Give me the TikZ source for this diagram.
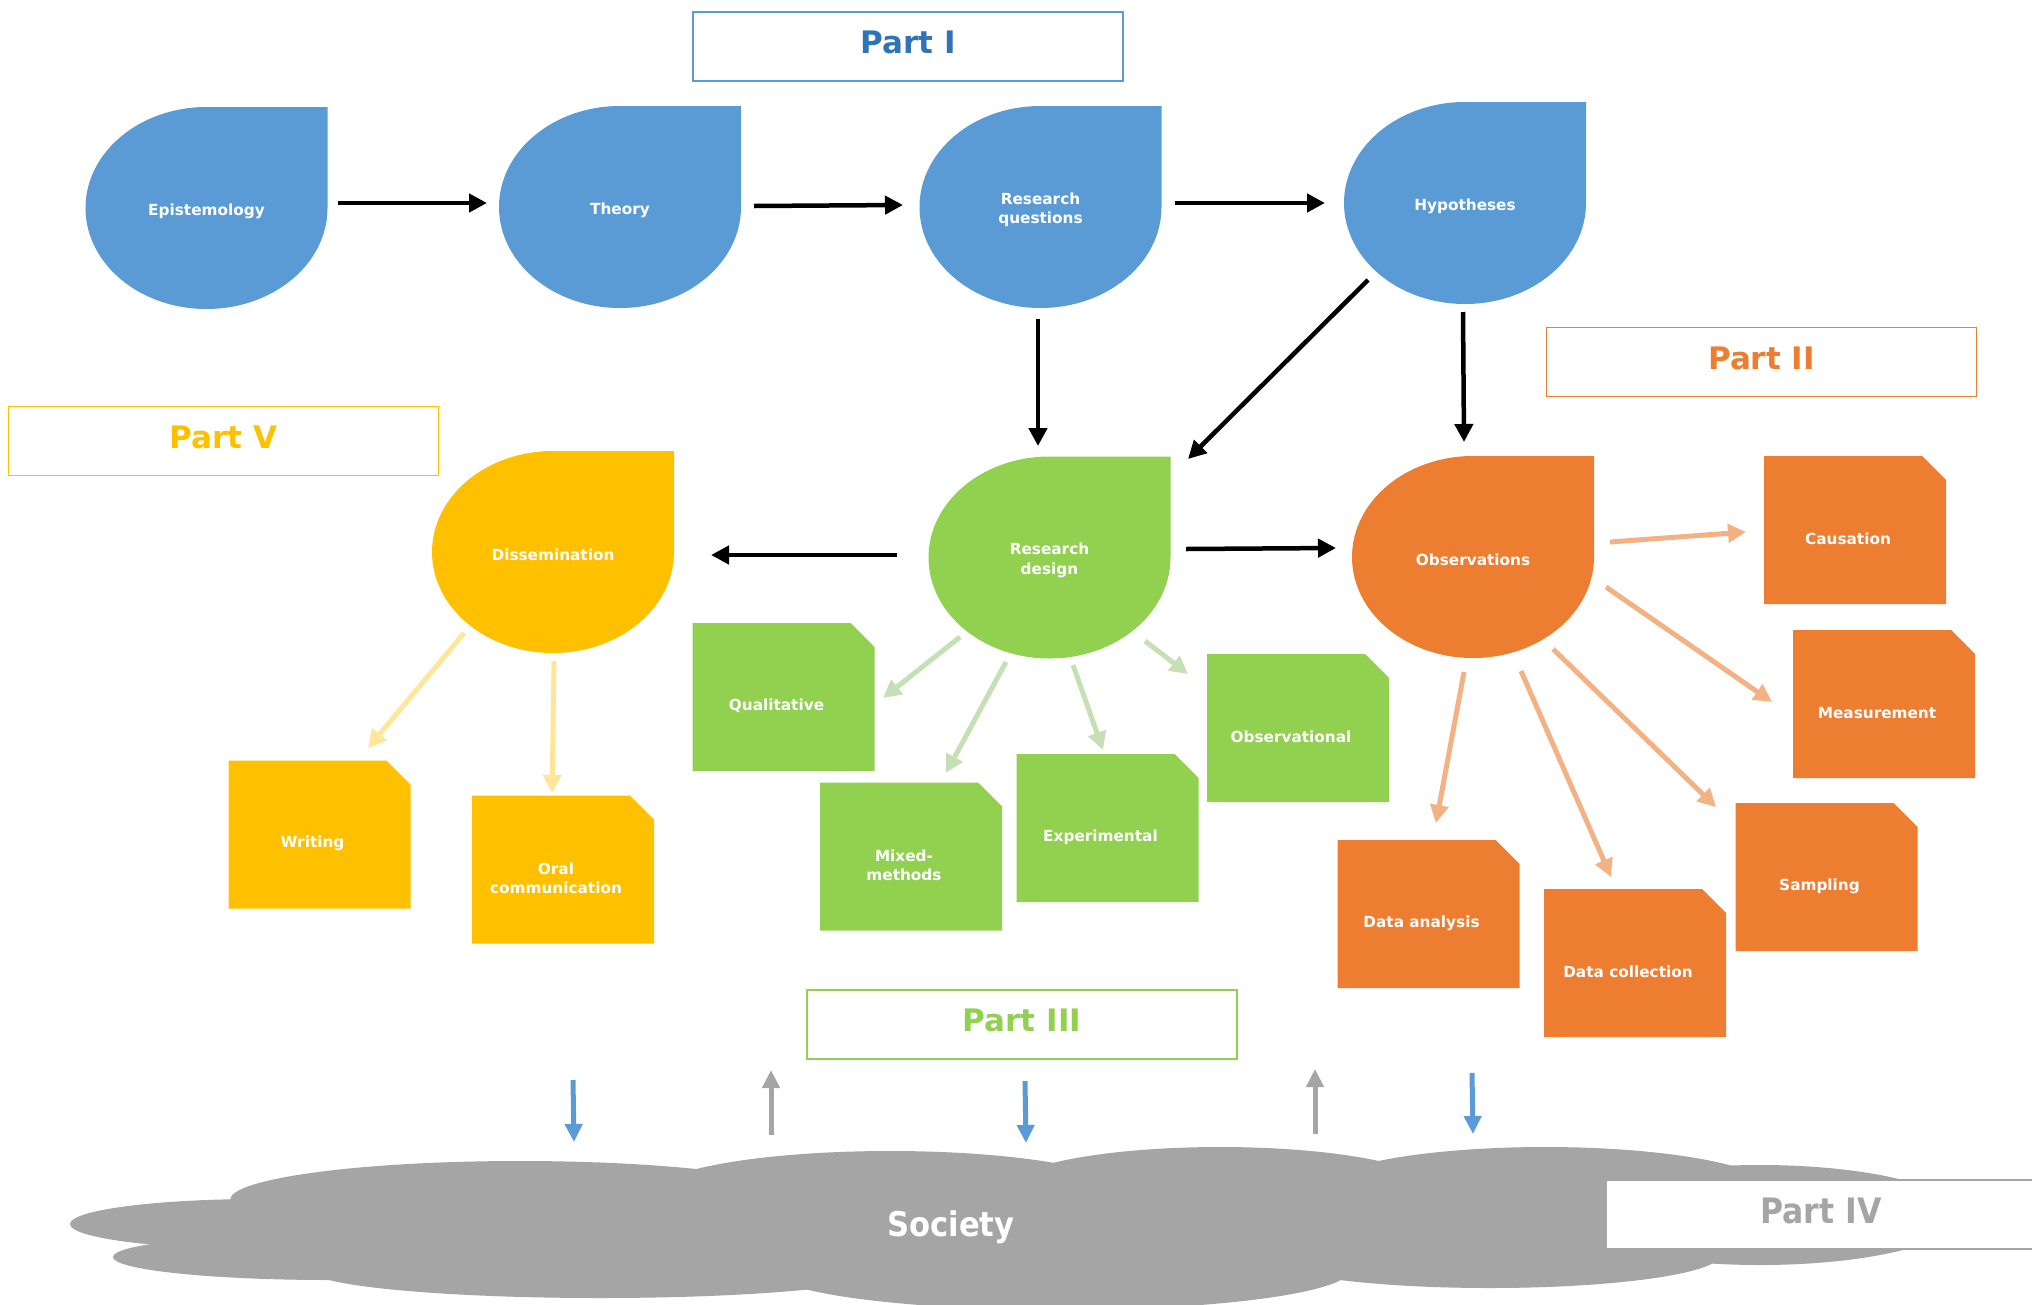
\documentclass[tikz,border=0pt]{standalone}
\usepackage{fontspec}
\setmainfont{DejaVu Sans}
\newfontfamily\condfont{DejaVu Sans Condensed}
\usetikzlibrary{arrows.meta,calc}
\definecolor{cblue}{HTML}{5B9BD5}
\definecolor{cbluedk}{HTML}{2E75B6}
\definecolor{cgreen}{HTML}{92D050}
\definecolor{corange}{HTML}{ED7D31}
\definecolor{cgold}{HTML}{FFC000}
\definecolor{cgray}{HTML}{A5A5A5}
\definecolor{lgreen}{HTML}{C5E0B4}
\definecolor{lorange}{HTML}{F4B183}
\definecolor{lgold}{HTML}{FFE699}
\newcommand\shapefont{\fontsize{15.3}{19.5}\selectfont\bfseries}
\newcommand\partfont{\fontsize{31}{36}\selectfont\bfseries}
\begin{document}
\begin{tikzpicture}[x=1pt,y=-1pt,
  drop/.style={rectangle, minimum width=242pt, minimum height=202pt, inner sep=0pt,
    path picture={\fill[#1] (path picture bounding box.north) -- (path picture bounding box.north east)
      -- (path picture bounding box.east) arc[start angle=0, end angle=-270, x radius=121pt, y radius=101pt] -- cycle;}},
  droptext/.style={align=center, text=white, font=\shapefont, inner sep=0pt, yshift=-3pt},
  doc/.style={rectangle, minimum width=182pt, minimum height=148pt, inner sep=0pt,
    path picture={\fill[#1] (path picture bounding box.north west) -- ([xshift=-24pt]path picture bounding box.north east)
      -- ([yshift=-24pt]path picture bounding box.north east) -- (path picture bounding box.south east)
      -- (path picture bounding box.south west) -- cycle;}},
  doctext/.style={align=center, text=white, font=\shapefont, inner sep=0pt, xshift=-7pt, yshift=-9pt},
  partbox/.style={draw=#1, line width=1.5pt, fill=white, minimum width=430pt, minimum height=69pt,
    inner sep=0pt, text depth=8pt, font=\partfont},
  blk/.style={line width=4.5pt, -{Triangle[length=18pt,width=18pt]}},
  soft/.style={draw=#1, line width=5pt, -{Triangle[length=18pt,width=18pt]}},
  bot/.style={draw=#1, line width=5pt, -{Triangle[length=18pt,width=17pt]}}
]
\useasboundingbox (0,0) rectangle (2032,1304);

% Society cloud
\begin{scope}[cgray]
\fill (260,1224) ellipse [x radius=190pt, y radius=25pt];
\fill (330,1257) ellipse [x radius=217pt, y radius=23pt];
\fill (520,1200) ellipse [x radius=290pt, y radius=39pt];
\fill (890,1195) ellipse [x radius=240pt, y radius=44pt];
\fill (1220,1190) ellipse [x radius=215pt, y radius=43pt];
\fill (1545,1192) ellipse [x radius=230pt, y radius=45pt];
\fill (1760,1215) ellipse [x radius=200pt, y radius=50pt];
\fill (600,1270) ellipse [x radius=290pt, y radius=28pt];
\fill (1060,1270) ellipse [x radius=290pt, y radius=40pt];
\fill (1490,1255) ellipse [x radius=230pt, y radius=33pt];
\fill (950,1225) ellipse [x radius=800pt, y radius=55pt];
\end{scope}
\node[font=\condfont\fontsize{34}{38}\selectfont\bfseries, text=white] (soc) at (951,1227) {Society};

% Part labels
\node[partbox=cblue, text=cbluedk] (p1) at (908,46.5) {Part I};
\node[partbox=corange, text=corange] (p2) at (1761.5,362) {Part II};
\node[partbox=cgreen, text=cgreen] (p3) at (1022,1024.5) {Part III};
\node[partbox=cgray, text=cgray, font=\condfont\fontsize{35}{38}\selectfont\bfseries] (p4) at (1821,1214.5) {Part IV};
\node[partbox=cgold, text=cgold] (p5) at (223.5,441) {Part V};

% Teardrops
\node[drop=cblue, label={[droptext, name=epiT]center:Epistemology}] (epi) at (206.5,208) {};
\node[drop=cblue, label={[droptext, name=theoryT]center:Theory}] (theory) at (620,207) {};
\node[drop=cblue, label={[droptext, name=rqT]center:Research\\questions}] (rq) at (1040.5,207) {};
\node[drop=cblue, label={[droptext, name=hypT]center:Hypotheses}] (hyp) at (1465,203) {};
\node[drop=cgreen, label={[droptext, name=rdT]center:Research\\design}] (rd) at (1049.5,557.5) {};
\node[drop=cgold, label={[droptext, name=dissT]center:Dissemination}] (diss) at (553,552) {};
\node[drop=corange, label={[droptext, name=obsT]center:Observations}] (obs) at (1473,557) {};

% Documents
\node[doc=corange, label={[doctext, name=causT]center:Causation}] (caus) at (1855,530) {};
\node[doc=corange, label={[doctext, name=measT]center:Measurement}] (meas) at (1884,704) {};
\node[doc=corange, label={[doctext, name=sampT]center:Sampling}] (samp) at (1826.5,877) {};
\node[doc=corange, label={[doctext, name=dcollT]center:Data collection}] (dcoll) at (1635,963) {};
\node[doc=corange, label={[doctext, name=danaT]center:Data analysis}] (dana) at (1428.5,914) {};
\node[doc=cgreen, label={[doctext, name=obsvT]center:Observational}] (obsv) at (1298,728) {};
\node[doc=cgreen, label={[doctext, name=expT]center:Experimental}] (exp) at (1107.5,828) {};
\node[doc=cgreen, label={[doctext, name=mixT]center:Mixed-\\methods}] (mixed) at (911,856.5) {};
\node[doc=cgreen, label={[doctext, name=qualT]center:Qualitative}] (qual) at (783.5,697) {};
\node[doc=cgold, label={[doctext, name=writT]center:Writing}] (writ) at (319.5,834.5) {};
\node[doc=cgold, label={[doctext, name=oralT]center:Oral\\communication}] (oral) at (563,869.5) {};

% Black arrows
\draw[blk] ($(epi)+(131,-5)$) -- ($(theory)+(-133,-4)$);
\draw[blk] ($(theory)+(134,-1)$) -- ($(rq)+(-137.5,-2)$);
\draw[blk] ($(rq)+(134.5,-4)$) -- ($(hyp)+(-140,0)$);
\draw[blk] ($(rq)+(-2.5,112)$) -- ($(rd)+(-11.5,-111.5)$);
\draw[blk] ($(hyp)+(-97,77)$) -- ($(rd)+(138.5,-98.5)$);
\draw[blk] ($(hyp)+(-2,109)$) -- ($(obs)+(-9,-115)$);
\draw[blk] ($(rd)+(-152.5,-2.5)$) -- ($(diss)+(158,3)$);
\draw[blk] ($(rd)+(136.5,-8.5)$) -- ($(obs)+(-137,-9)$);

% Soft arrows
\draw[soft=lgreen] ($(rd)+(-89.5,79.5)$) -- ($(qual)+(99.5,1)$);
\draw[soft=lgreen] ($(rd)+(-43.5,104.5)$) -- ($(mixed)+(35,-83.5)$);
\draw[soft=lgreen] ($(rd)+(23.5,107.5)$) -- ($(exp)+(-4.5,-78)$);
\draw[soft=lgreen] ($(rd)+(95.5,83.5)$) -- ($(obsv)+(-110,-54)$);
\draw[soft=lorange] ($(obs)+(137,-15)$) -- ($(caus)+(-109,2)$);
\draw[soft=lorange] ($(obs)+(133,30)$) -- ($(meas)+(-112,-2)$);
\draw[soft=lorange] ($(obs)+(80,92)$) -- ($(samp)+(-110.5,-70)$);
\draw[soft=lorange] ($(obs)+(48,114)$) -- ($(dcoll)+(-24,-86)$);
\draw[soft=lorange] ($(obs)+(-9,115)$) -- ($(dana)+(7.5,-91)$);
\draw[soft=lgold] ($(diss)+(-89,81)$) -- ($(writ)+(48.5,-86.5)$);
\draw[soft=lgold] ($(diss)+(1,109)$) -- ($(oral)+(-11,-76.5)$);

% Society arrows
\coordinate (b1a) at ($(soc)+(-378,-147)$);
\coordinate (b1b) at ($(soc)+(-377,-85)$);
\coordinate (g1a) at ($(soc)+(-180,-92)$);
\coordinate (g1b) at ($(soc)+(-180,-157)$);
\coordinate (b2a) at ($(soc)+(74,-146)$);
\coordinate (b2b) at ($(soc)+(75,-84)$);
\coordinate (g2a) at ($(soc)+(364,-93)$);
\coordinate (g2b) at ($(soc)+(364,-158)$);
\coordinate (b3a) at ($(soc)+(521,-154)$);
\coordinate (b3b) at ($(soc)+(522,-93)$);
\draw[bot=cblue] (b1a) -- (b1b);
\draw[bot=cgray] (g1a) -- (g1b);
\draw[bot=cblue] (b2a) -- (b2b);
\draw[bot=cgray] (g2a) -- (g2b);
\draw[bot=cblue] (b3a) -- (b3b);
\end{tikzpicture}
\end{document}
